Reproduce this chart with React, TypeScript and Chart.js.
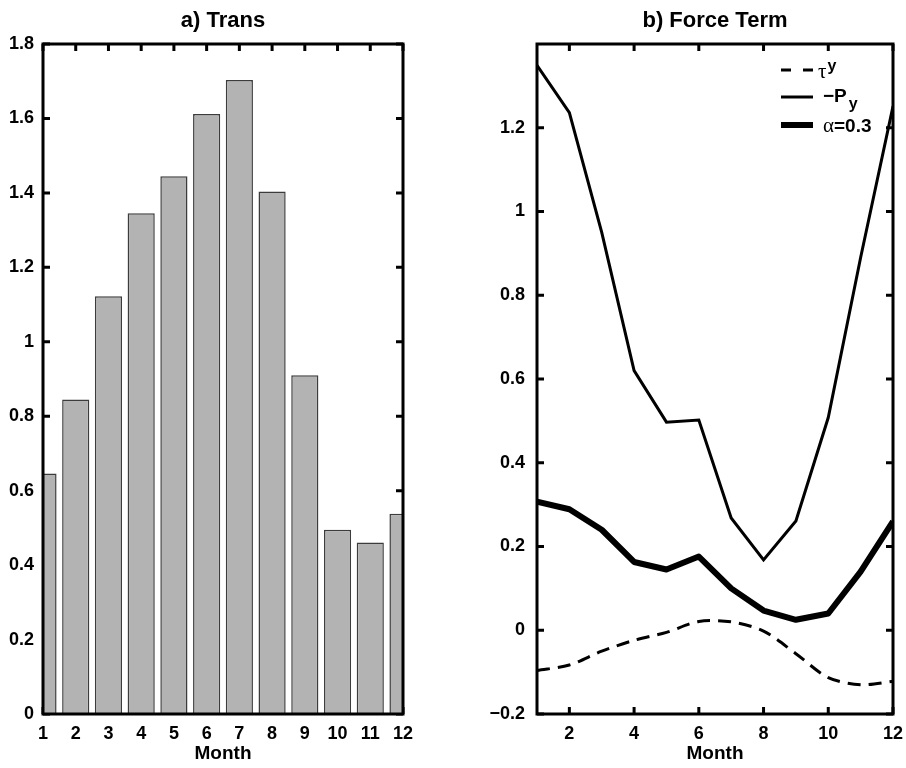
import React, { useEffect, useRef } from 'react';
import { Chart, registerables } from 'chart.js';

Chart.register(...registerables);

// ---------- data ----------
const months = [1, 2, 3, 4, 5, 6, 7, 8, 9, 10, 11, 12];
const transValues = [0.646, 0.845, 1.122, 1.345, 1.445, 1.612, 1.703, 1.404, 0.91, 0.495, 0.461, 0.538];

const tauY = [-0.096, -0.083, -0.05, -0.024, -0.005, 0.021, 0.02, -0.002, -0.056, -0.113, -0.13, -0.122];
const negPy = [1.349, 1.236, 0.95, 0.62, 0.497, 0.502, 0.268, 0.168, 0.261, 0.508, 0.89, 1.251];
const alpha03 = [0.307, 0.289, 0.24, 0.163, 0.145, 0.176, 0.1, 0.047, 0.025, 0.04, 0.14, 0.26];

const xTicksA = [1, 2, 3, 4, 5, 6, 7, 8, 9, 10, 11, 12];
const yTicksA = [0, 0.2, 0.4, 0.6, 0.8, 1, 1.2, 1.4, 1.6, 1.8];
const xTicksB = [2, 4, 6, 8, 10, 12];
const yTicksB = [-0.2, 0, 0.2, 0.4, 0.6, 0.8, 1, 1.2];

const titleA = 'a) Trans';
const titleB = 'b) Force Term';
const xTitle = 'Month';

// ---------- styling helpers ----------
const FAMILY = '"Liberation Sans", Arial, Helvetica, sans-serif';
const SERIF = '"Liberation Serif", "DejaVu Serif", serif';

const fmt = (v: number) => {
  const r = Math.round(v * 10) / 10;
  if (r === 0) return '0';
  return String(r).replace('-', '\u2212');
};

const setTicks = (arr: number[]) => (scale: any) => {
  scale.ticks = arr.map((v) => ({ value: v }));
};

const boxPlugin = {
  id: 'mlBox',
  beforeDatasetsDraw(chart: any) {
    const { ctx, chartArea: a, scales } = chart;
    const L = 7;
    ctx.save();
    ctx.strokeStyle = '#000';
    ctx.lineWidth = 3;
    ctx.lineCap = 'butt';
    ctx.beginPath();
    for (const t of scales.x.ticks) {
      const px = scales.x.getPixelForValue(t.value);
      ctx.moveTo(px, a.top);
      ctx.lineTo(px, a.top + L);
      ctx.moveTo(px, a.bottom);
      ctx.lineTo(px, a.bottom - L);
    }
    for (const t of scales.y.ticks) {
      const py = scales.y.getPixelForValue(t.value);
      ctx.moveTo(a.left, py);
      ctx.lineTo(a.left + L, py);
      ctx.moveTo(a.right, py);
      ctx.lineTo(a.right - L, py);
    }
    ctx.stroke();
    ctx.restore();
  },
  afterDatasetsDraw(chart: any) {
    const { ctx, chartArea: a } = chart;
    ctx.save();
    ctx.strokeStyle = '#000';
    ctx.lineWidth = 3;
    ctx.lineJoin = 'miter';
    ctx.strokeRect(a.left, a.top, a.right - a.left, a.bottom - a.top);
    ctx.restore();
  },
};

const legendPlugin = {
  id: 'mlLegend',
  afterDraw(chart: any) {
    const { ctx, chartArea: a } = chart;
    const x0 = a.right - 112;
    const x1 = a.right - 80;
    const tx = a.right - 70;
    const rows = [a.top + 26, a.top + 53, a.top + 81];
    ctx.save();
    ctx.strokeStyle = '#000';
    ctx.fillStyle = '#000';
    ctx.lineCap = 'butt';

    // row 1: dashed tau^y
    ctx.lineWidth = 3;
    ctx.setLineDash([10, 12]);
    ctx.beginPath();
    ctx.moveTo(x0, rows[0]);
    ctx.lineTo(x1, rows[0]);
    ctx.stroke();
    ctx.setLineDash([]);
    ctx.textBaseline = 'alphabetic';
    ctx.textAlign = 'left';
    ctx.font = `21px ${SERIF}`;
    ctx.fillText('\u03C4', tx - 5, rows[0] + 8);
    let w = ctx.measureText('\u03C4').width;
    ctx.font = `bold 16px ${FAMILY}`;
    ctx.fillText('y', tx - 5 + w + 1, rows[0] + 1);

    // row 2: thin solid -P_y
    ctx.lineWidth = 3;
    ctx.beginPath();
    ctx.moveTo(x0, rows[1]);
    ctx.lineTo(x1, rows[1]);
    ctx.stroke();
    ctx.font = `bold 19px ${FAMILY}`;
    ctx.fillText('\u2212P', tx, rows[1] + 5);
    w = ctx.measureText('\u2212P').width;
    ctx.font = `bold 16px ${FAMILY}`;
    ctx.fillText('y', tx + w + 2, rows[1] + 12);

    // row 3: thick solid alpha=0.3
    ctx.lineWidth = 6;
    ctx.beginPath();
    ctx.moveTo(x0, rows[2]);
    ctx.lineTo(x1, rows[2]);
    ctx.stroke();
    ctx.font = `21px ${SERIF}`;
    ctx.fillText('\u03B1', tx, rows[2] + 7);
    w = ctx.measureText('\u03B1').width;
    ctx.font = `bold 19px ${FAMILY}`;
    ctx.fillText('=0.3', tx + w, rows[2] + 7);
    ctx.restore();
  },
};

const tickFont = { family: FAMILY, size: 18, weight: 'bold' as const, lineHeight: 1.2 };
const titleFont = { family: FAMILY, size: 22, weight: 'bold' as const, lineHeight: 1.2 };
const axisTitleFont = { family: FAMILY, size: 19, weight: 'bold' as const, lineHeight: 1.2 };

export default function App() {
  const refA = useRef<HTMLCanvasElement>(null);
  const refB = useRef<HTMLCanvasElement>(null);

  useEffect(() => {
    Chart.defaults.color = '#000';

    const chartA = new Chart(refA.current as HTMLCanvasElement, {
      type: 'bar',
      data: {
        datasets: [
          {
            data: months.map((m, i) => ({ x: m, y: transValues[i] })),
            backgroundColor: '#b3b3b3',
            borderColor: '#3c3c3c',
            borderWidth: 1.5,
            barPercentage: 0.83,
            categoryPercentage: 1,
            clip: 0,
          } as any,
        ],
      },
      options: {
        responsive: false,
        animation: false,
        layout: { padding: { left: 0, right: 50, top: 0, bottom: 0 } },
        plugins: {
          legend: { display: false },
          tooltip: { enabled: false },
          title: {
            display: true,
            text: titleA,
            fullSize: false,
            font: titleFont,
            color: '#000',
            padding: { top: 8, bottom: 9.6 },
          },
        },
        scales: {
          x: {
            type: 'linear',
            min: 1,
            max: 12,
            offset: false,
            grid: { display: false, offset: false },
            border: { display: false },
            afterBuildTicks: setTicks(xTicksA),
            afterFit: (s: any) => { s.height = 54; },
            ticks: { font: tickFont, padding: 1, color: '#000', maxRotation: 0, autoSkip: false, callback: (v: any) => String(v) },
            title: { display: true, text: xTitle, font: axisTitleFont, color: '#000', padding: { top: 0, bottom: 3 } },
          },
          y: {
            type: 'linear',
            min: 0,
            max: 1.8,
            grid: { display: false },
            border: { display: false },
            afterBuildTicks: setTicks(yTicksA),
            afterFit: (s: any) => { s.width = 43; },
            ticks: { font: tickFont, padding: 1, color: '#000', autoSkip: false, callback: (v: any) => fmt(v) },
          },
        },
      } as any,
      plugins: [boxPlugin],
    });

    const mk = (arr: number[]) => months.map((m, i) => ({ x: m, y: arr[i] }));

    const chartB = new Chart(refB.current as HTMLCanvasElement, {
      type: 'line',
      data: {
        datasets: [
          { label: 'tau', data: mk(tauY), borderColor: '#000', borderWidth: 3, borderDash: [13, 8], pointRadius: 0, tension: 0.3, fill: false },
          { label: '-Py', data: mk(negPy), borderColor: '#000', borderWidth: 3, pointRadius: 0, tension: 0, fill: false },
          { label: 'alpha', data: mk(alpha03), borderColor: '#000', borderWidth: 6, pointRadius: 0, tension: 0, fill: false, borderJoinStyle: 'round' },
        ] as any,
      },
      options: {
        responsive: false,
        animation: false,
        layout: { padding: { left: 0, right: 13, top: 0, bottom: 0 } },
        plugins: {
          legend: { display: false },
          tooltip: { enabled: false },
          title: {
            display: true,
            text: titleB,
            fullSize: false,
            font: titleFont,
            color: '#000',
            padding: { top: 8, bottom: 9.6 },
          },
        },
        scales: {
          x: {
            type: 'linear',
            min: 1,
            max: 12,
            grid: { display: false },
            border: { display: false },
            afterBuildTicks: setTicks(xTicksB),
            afterFit: (s: any) => { s.height = 54; },
            ticks: { font: tickFont, padding: 1, color: '#000', maxRotation: 0, autoSkip: false, callback: (v: any) => String(v) },
            title: { display: true, text: xTitle, font: axisTitleFont, color: '#000', padding: { top: 0, bottom: 3 } },
          },
          y: {
            type: 'linear',
            min: -0.2,
            max: 1.4,
            grid: { display: false },
            border: { display: false },
            afterBuildTicks: setTicks(yTicksB),
            afterFit: (s: any) => { s.width = 84; },
            ticks: { font: tickFont, padding: 4, color: '#000', autoSkip: false, callback: (v: any) => fmt(v) },
          },
        },
      } as any,
      plugins: [boxPlugin, legendPlugin],
    });

    return () => {
      chartA.destroy();
      chartB.destroy();
    };
  }, []);

  return (
    <div style={{ position: 'absolute', left: 0, top: 0, width: 906, height: 768, background: '#fff' }}>
      <canvas ref={refA} width={453} height={768} style={{ position: 'absolute', left: 0, top: 0 }} />
      <canvas ref={refB} width={453} height={768} style={{ position: 'absolute', left: 453, top: 0 }} />
    </div>
  );
}
